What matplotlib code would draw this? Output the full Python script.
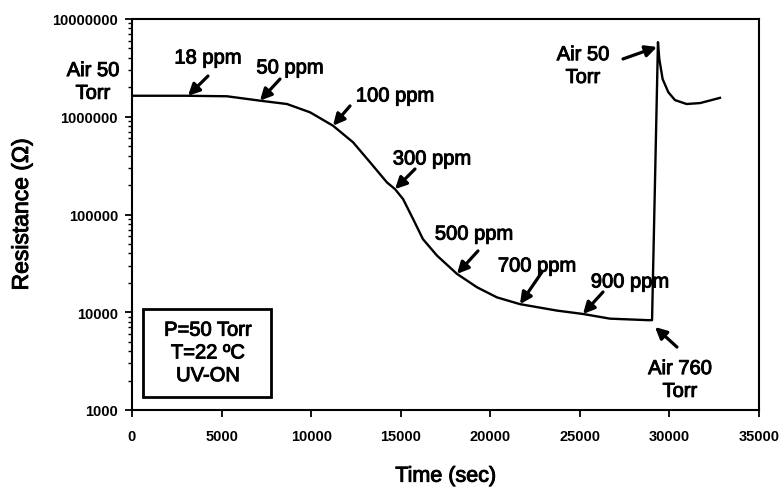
import numpy as np
import matplotlib
matplotlib.use("Agg")
from matplotlib import pyplot as plt
from matplotlib import patheffects
from matplotlib.patches import Rectangle
from matplotlib.ticker import LogLocator, NullFormatter, FixedLocator

plt.rcParams['font.family'] = ['Liberation Sans', 'DejaVu Sans']

# resistance trace (time in s, resistance in ohm)
time_s = [0, 3000, 5300, 7150, 8650, 9940, 11220, 12340, 13290, 14230, 14680,
          15130, 15690, 16240, 17030, 18140, 19260, 20370, 21660, 23720, 25180,
          26680, 28800, 29030, 29360, 29435, 29620, 29940, 30310, 30960, 31710,
          32820]
resistance = [1.64e6, 1.64e6, 1.62e6, 1.46e6, 1.35e6, 1.11e6, 8.1e5, 5.48e5,
              3.42e5, 2.13e5, 1.82e5, 1.44e5, 9.0e4, 5.6e4, 3.79e4, 2.47e4,
              1.80e4, 1.42e4, 1.21e4, 1.04e4, 9.6e3, 8.6e3, 8.3e3, 8.3e3,
              5.8e6, 3.9e6, 2.43e6, 1.78e6, 1.48e6, 1.35e6, 1.38e6, 1.56e6]
n_exposure = 24  # points before the pressure step

# concentration steps: label, label centre, arrow tail, time the arrow points at
step_labels = ["18 ppm", "50 ppm", "100 ppm", "300 ppm", "500 ppm", "700 ppm", "900 ppm"]
step_text_xy = [(4242, 3.99e6), (8820, 3.16e6), (14681, 1.63e6), (16746, 3.7e5),
                (19090, 6.3e4), (22607, 2.97e4), (27798, 2.04e4)]
step_tail_xy = [(4242, 2.61e6), (8261, 2.43e6), (12169, 1.29e6), (15797, 2.92e5),
                (19314, 4.24e4), (22886, 2.58e4), (26291, 1.61e4)]
step_tip_t = [3126, 7145, 11220, 14681, 18142, 21658, 25175]

# pressure changes
air_labels = ["Air 760\nTorr", "Air 50\nTorr"]
air_text_xy = [(30589, 2028), (25175, 3.3e6)]
air_tail_xy = [(30422, 4403), (27408, 3.9e6)]
air_tip_xy = [(29194, 7063), (29306, 5.18e6)]

fig = plt.figure(figsize=(7.83, 4.89), dpi=100)
ax = fig.add_axes([132 / 783, 1 - 411 / 489, 627 / 783, 391 / 489])

ax.plot(time_s, resistance, color='black', lw=1.7, solid_joinstyle='round')
ax.set_yscale('log')
ax.set_xlim(0, 35000)
ax.set_ylim(1000, 1e7)

ax.xaxis.set_major_locator(FixedLocator(np.arange(0, 35001, 5000)))
ax.yaxis.set_major_locator(LogLocator(base=10))
ax.yaxis.set_minor_locator(LogLocator(base=10, subs=np.arange(2, 10)))
ax.yaxis.set_minor_formatter(NullFormatter())
ax.yaxis.set_major_formatter(plt.FuncFormatter(lambda v, p: f"{int(round(v))}"))

for s in ax.spines.values():
    s.set_linewidth(1.5)
ax.tick_params(which='major', direction='out', length=5, width=1.3, labelsize=10.5, pad=5)
ax.tick_params(which='minor', direction='out', length=3, width=1.0)
ax.tick_params(axis='x', pad=9)
for lab in ax.get_xticklabels() + ax.get_yticklabels():
    lab.set_fontweight('bold')

heavy = [patheffects.withStroke(linewidth=0.7, foreground='black')]

ax.set_xlabel("Time (sec)", fontsize=15.5, labelpad=16, path_effects=heavy)
ax.set_ylabel("Resistance (\u03a9)", fontsize=16.5, labelpad=14, path_effects=heavy)

log_r = np.log10(resistance)
arrow = dict(arrowstyle='-|>', color='black', lw=2.3, mutation_scale=17,
             shrinkA=0, shrinkB=0)

for lab, txy, tail, tt in zip(step_labels, step_text_xy, step_tail_xy, step_tip_t):
    tip = (tt, 10 ** np.interp(tt, time_s[:n_exposure], log_r[:n_exposure]))
    ax.annotate("", xy=tip, xytext=tail, arrowprops=arrow)
    ax.text(*txy, lab, ha='center', va='center', fontsize=14.5, path_effects=heavy)

for lab, txy, tail, tip in zip(air_labels, air_text_xy, air_tail_xy, air_tip_xy):
    ax.annotate("", xy=tip, xytext=tail, arrowprops=arrow)
    ax.text(*txy, lab, ha='center', va='center', fontsize=14.5, linespacing=1.25,
            path_effects=heavy)

# initial state label sits left of the axis
ax.text(-2177, 2.27e6, "Air 50\nTorr", ha='center', va='center', fontsize=14.5,
        linespacing=1.25, clip_on=False, path_effects=heavy)

# conditions box
ax.add_patch(Rectangle((0.0175, 0.0332), 0.204, 0.225, transform=ax.transAxes,
                       fill=False, ec='black', lw=2))
ax.text(0.121, 0.146, "P=50 Torr\nT=22 \u00baC\nUV-ON", transform=ax.transAxes,
        ha='center', va='center', fontsize=14.5, linespacing=1.25, path_effects=heavy)

fig.savefig("out.png", dpi=100)
